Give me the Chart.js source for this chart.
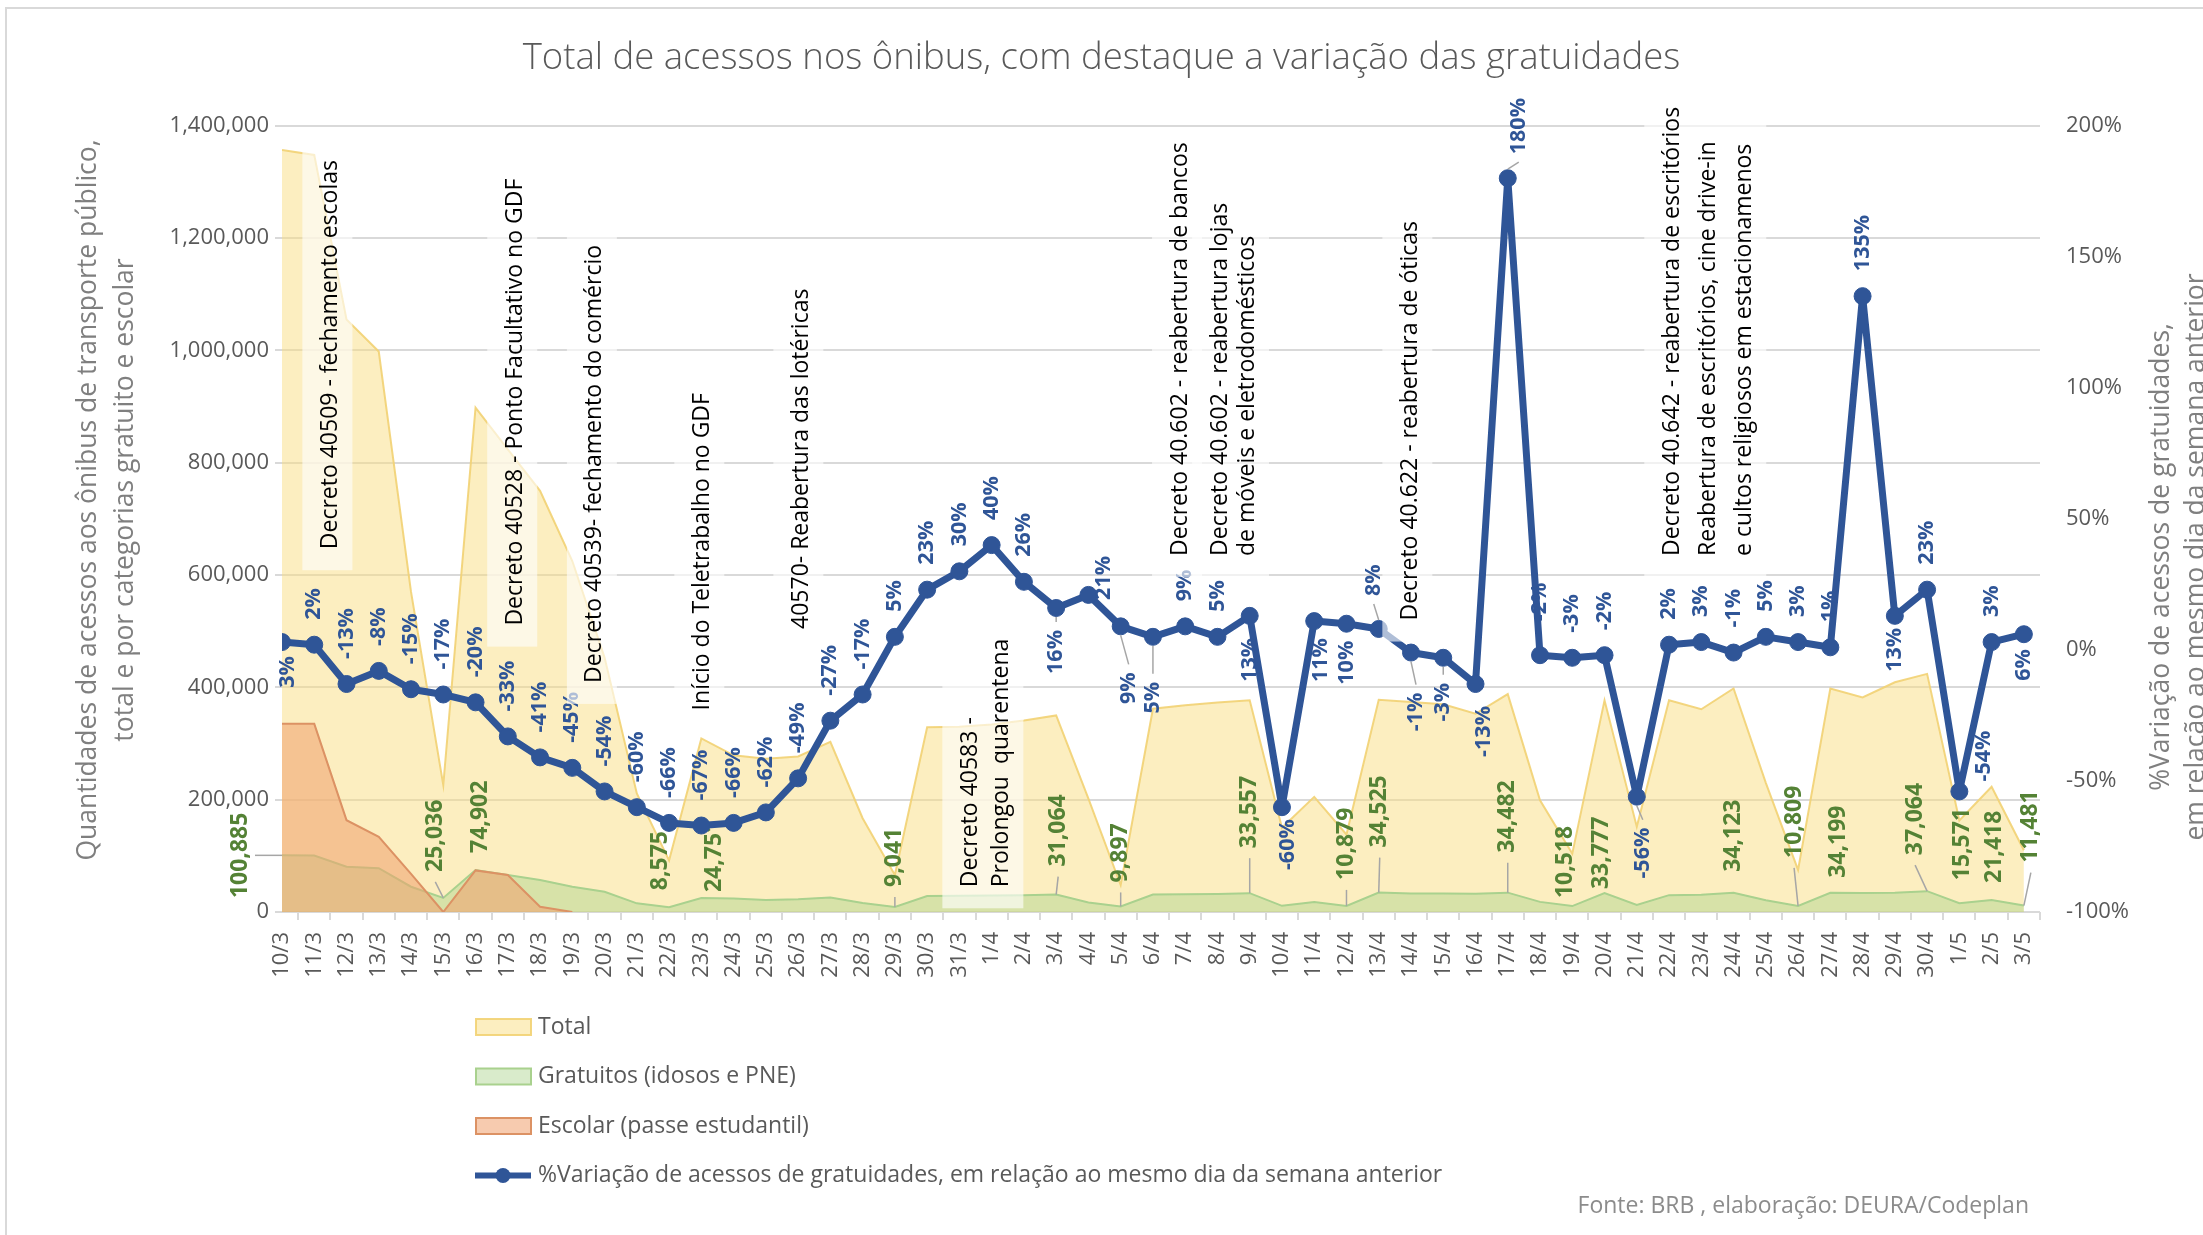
<!DOCTYPE html>
<html lang="pt-BR">
<head>
<meta charset="utf-8">
<title>Total de acessos nos ônibus</title>
<script src="https://cdn.jsdelivr.net/npm/chart.js@4.4.1/dist/chart.umd.min.js"></script>
<style>
  html, body { margin: 0; padding: 0; background: #fff; }
  #wrap { position: relative; width: 2203px; height: 1235px; }
</style>
</head>
<body>
<div id="wrap"><canvas id="chart"></canvas></div>
<script>
// Datas (dia/mês) – 10/3 a 3/5
const dateLabels = [
  '10/3', '11/3', '12/3', '13/3', '14/3', '15/3', '16/3', '17/3', '18/3', '19/3', '20/3',
  '21/3', '22/3', '23/3', '24/3', '25/3', '26/3', '27/3', '28/3', '29/3', '30/3', '31/3',
  '1/4', '2/4', '3/4', '4/4', '5/4', '6/4', '7/4', '8/4', '9/4', '10/4', '11/4', '12/4',
  '13/4', '14/4', '15/4', '16/4', '17/4', '18/4', '19/4', '20/4', '21/4', '22/4', '23/4',
  '24/4', '25/4', '26/4', '27/4', '28/4', '29/4', '30/4', '1/5', '2/5', '3/5',
];

// Total de acessos
const totalAcessos = [
  1357000, 1348000, 1055000, 998000, 570000, 226000, 898000, 824000, 750000, 625000, 453000,
  211000, 92000, 309000, 279000, 273000, 277000, 303000, 167000, 66000, 329000, 330000,
  334000, 341000, 350000, 202000, 48000, 362000, 368000, 373000, 377000, 150000, 205000, 138000,
  378000, 374000, 370000, 353000, 388000, 199000, 104000, 377000, 152000, 377000, 361000,
  398000, 230000, 75000, 398000, 382000, 409000, 424000, 163000, 223000, 110000,
];

// Gratuitos (idosos e PNE)
const gratuitos = [
  100885, 100500, 80500, 78000, 45000, 25036, 74902, 65700, 56800, 45000, 36000,
  15400, 8575, 24751, 24000, 21300, 22500, 26000, 16000, 9041, 28400, 29000,
  29500, 30000, 31064, 17000, 9897, 31000, 31500, 32000, 33557, 11000, 17800, 10879,
  34525, 33000, 33000, 32500, 34482, 18000, 10518, 33777, 12500, 30000, 30500,
  34123, 21000, 10809, 34199, 34000, 34500, 37064, 15571, 21418, 11481,
];

// Escolar (passe estudantil) – some após 19/3
const escolar = [
  335000, 335000, 163500, 134000, 68000, 0, 74000, 66000, 9400, 0, null,
  null, null, null, null, null, null, null, null, null, null, null,
  null, null, null, null, null, null, null, null, null, null, null, null,
  null, null, null, null, null, null, null, null, null, null, null,
  null, null, null, null, null, null, null, null, null, null,
];

// % variação dos gratuitos vs mesmo dia da semana anterior
const variacaoPct = [
  3, 2, -13, -8, -15, -17, -20, -33, -41, -45, -54,
  -60, -66, -67, -66, -62, -49, -27, -17, 5, 23, 30,
  40, 26, 16, 21, 9, 5, 9, 5, 13, -60, 11, 10,
  8, -1, -3, -13, 180, -2, -3, -2, -56, 2, 3,
  -1, 5, 3, 1, 135, 13, 23, -54, 3, 6,
];

// rótulos verdes: só alguns pontos têm rótulo (dx/dy em px a partir do ponto)
const gratLabelPos = {
  0: { side: 'left', dx: -42 },
  5: { dx: -8, dy: 26, leader: true },
  6: { dx: 5, dy: 17 },
  12: { dx: -9, dy: 17 },
  13: { dx: 13, dy: 6 },
  19: { dx: 0, dy: 20, leader: true },
  24: { dx: 2, dy: 28, leader: true },
  26: { dx: 0, dy: 24, leader: true },
  30: { dx: 0, dy: 45, leader: true },
  33: { dx: 0, dy: 26, leader: true },
  34: { dx: 1, dy: 45, leader: true },
  38: { dx: 0, dy: 40, leader: true },
  40: { dx: -7, dy: 8 },
  41: { dx: -3, dy: 4 },
  45: { dx: 0, dy: 21 },
  47: { dx: -4, dy: 48, leader: true },
  48: { dx: 8, dy: 15 },
  51: { dx: -12, dy: 36, leader: true },
  52: { dx: 3, dy: 23 },
  53: { dx: 3, dy: 17 },
  54: { dx: 7, dy: 43, leader: true },
};

// rótulos azuis: a = acima, b = abaixo
const pctPlace = 'b' + 'aaaaaaaaaaaaaaaaaaaaaaa' + 'b' + 'a' + 'bb' + 'aa' + 'bbbb' + 'a' + 'bbb' +
  'aaaa' + 'b' + 'aaaaaaa' + 'b' + 'aaa' + 'b';
const pctTweaks = {
  0: { dx: 6, gap: 14 }, 24: { gap: 22, leader: true }, 25: { dx: 15, gap: -5 },
  26: { dx: 8, gap: 46, leader: true }, 27: { gap: 45, leader: true }, 30: { gap: 22 },
  31: { dx: 6, gap: 12 }, 32: { dx: 7, gap: 17 }, 33: { gap: 17 },
  34: { dx: -5, gap: 33, leader: true }, 35: { dx: 5, gap: 40, leader: true },
  36: { gap: 25, leader: true }, 37: { dx: 8, gap: 22 }, 38: { dx: 11, gap: 24, leader: true },
  39: { gap: 34 }, 42: { dx: 6, gap: 31, leader: true }, 50: { gap: 12 },
  52: { dx: 25, gap: 10 }, 54: { gap: 15 },
};

// caixas de texto com os decretos (x = índice da data, base = valor no eixo esquerdo)
const annotations = [
  { at: 1.5, base: 646000, gap: 0, lines: ['Decreto 40509 - fechamento escolas'] },
  { at: 7.23, base: 510000, gap: 0, lines: ['Decreto 40528 - Ponto Facultativo no GDF'] },
  { at: 9.7, base: 408000, gap: 0, lines: ['Decreto 40539- fechamento do comércio'] },
  { at: 13.03, base: 359000, gap: 0, lines: ['Início do Teletrabalho no GDF'] },
  { at: 16.1, base: 504000, gap: 0, lines: ['40570- Reabertura das lotéricas'] },
  { at: 21.34, base: 44000, gap: 31, lines: ['Decreto 40583 -', 'Prolongou  quarentena'] },
  { at: 27.84, base: 634000, gap: 0, lines: ['Decreto 40.602 - reabertura de bancos'] },
  { at: 29.08, base: 634000, gap: 27, lines: ['Decreto 40.602 - reabertura lojas', 'de móveis e eletrodomésticos'] },
  { at: 34.98, base: 519000, gap: 0, lines: ['Decreto 40.622 - reabertura de óticas'] },
  { at: 43.1, base: 634000, gap: 36, lines: ['Decreto 40.642 - reabertura de escritórios',
    'Reabertura de escritórios, cine drive-in', 'e cultos religiosos em estacionamenos'] },
];

const GREEN = '#548235';
const BLUE = '#2F5597';
const GRAY = '#595959';
const LEADER = '#a6a6a6';
const FONT = '"Open Sans", sans-serif';

Chart.defaults.font.family = FONT;

const pts = arr => arr.map((v, i) => ({ x: i, y: v }));

// texto vertical (lido de baixo para cima)
function vText(ctx, text, x, y, align) {
  ctx.save();
  ctx.translate(x, y);
  ctx.rotate(-Math.PI / 2);
  ctx.textAlign = align;
  ctx.textBaseline = 'middle';
  ctx.fillText(text, 0, 0);
  ctx.restore();
}

function leader(ctx, x1, y1, x2, y2) {
  ctx.save();
  ctx.strokeStyle = LEADER;
  ctx.lineWidth = 1.5;
  ctx.beginPath();
  ctx.moveTo(x1, y1);
  ctx.lineTo(x2, y2);
  ctx.stroke();
  ctx.restore();
}

const labelsPlugin = {
  id: 'rotulos',
  // rótulos verdes ficam por baixo da linha azul
  beforeDatasetDraw(chart, args) {
    if (args.index !== 3) return;
    const ctx = chart.ctx;
    const meta = chart.getDatasetMeta(1).data;
    ctx.save();
    ctx.font = 'bold 23px ' + FONT;
    ctx.fillStyle = GREEN;
    Object.keys(gratLabelPos).forEach(k => {
      const i = +k, p = gratLabelPos[k], pt = meta[i];
      const txt = gratuitos[i].toLocaleString('en-US');
      if (p.side === 'left') {
        const x = pt.x + p.dx;
        leader(ctx, x + 15, pt.y, pt.x, pt.y);
        ctx.fillStyle = GREEN;
        vText(ctx, txt, x, pt.y, 'center');
        return;
      }
      const x = pt.x + p.dx, yb = pt.y - p.dy;
      if (p.leader) leader(ctx, pt.x, pt.y, x, yb + 10);
      ctx.fillStyle = GREEN;
      vText(ctx, txt, x, yb, 'left');
    });
    ctx.restore();
  },
  afterDatasetsDraw(chart) {
    const ctx = chart.ctx;
    const meta = chart.getDatasetMeta(3).data;
    ctx.save();
    ctx.font = 'bold 21.5px ' + FONT;
    variacaoPct.forEach((v, i) => {
      const pt = meta[i], t = pctTweaks[i] || {};
      const below = pctPlace[i] === 'b';
      const gap = t.gap !== undefined ? t.gap : (below ? 16 : 25);
      const x = pt.x + (t.dx || 0);
      const y = below ? pt.y + gap : pt.y - gap;
      if (t.leader) leader(ctx, pt.x, below ? pt.y + 9 : pt.y - 9, x, below ? y - 8 : y + 8);
      ctx.fillStyle = BLUE;
      vText(ctx, v + '%', x, y, below ? 'right' : 'left');
    });

    // decretos, com caixa branca semitransparente
    const xs = chart.scales.x, ys = chart.scales.y;
    ctx.font = '23px ' + FONT;
    annotations.forEach(a => {
      const x0 = xs.getPixelForValue(a.at);
      const xl = x0 + (a.lines.length - 1) * a.gap;
      const yb = ys.getPixelForValue(a.base);
      const len = Math.max(...a.lines.map(s => ctx.measureText(s).width));
      ctx.fillStyle = 'rgba(255,255,255,0.62)';
      ctx.fillRect(x0 - 28, yb - len - 12, xl - x0 + 50, len + 33);
      ctx.fillStyle = '#000';
      a.lines.forEach((s, k) => vText(ctx, s, x0 + k * a.gap, yb, 'left'));
    });
    ctx.restore();
  },
  afterDraw(chart) {
    const ctx = chart.ctx;
    ctx.save();
    // moldura
    ctx.strokeStyle = '#d9d9d9';
    ctx.lineWidth = 2;
    ctx.beginPath();
    ctx.moveTo(6, 1235);
    ctx.lineTo(6, 8);
    ctx.lineTo(2203, 8);
    ctx.stroke();

    // títulos dos eixos
    ctx.font = '26.5px ' + FONT;
    ctx.fillStyle = '#7f7f7f';
    vText(ctx, 'Quantidades de acessos aos ônibus de transporte público,', 88, 500, 'center');
    vText(ctx, 'total e por categorias gratuito e escolar', 125, 500, 'center');
    vText(ctx, '%Variação de acessos de gratuidades,', 2161, 557, 'center');
    vText(ctx, 'em relação ao mesmo dia da semana anterior', 2196, 557, 'center');

    // legenda
    ctx.font = '23px ' + FONT;
    ctx.textBaseline = 'middle';
    ctx.textAlign = 'left';
    chart.data.datasets.forEach((ds, k) => {
      const y = 1027 + k * 49.5;
      if (ds.yAxisID === 'y1') {
        ctx.strokeStyle = ds.borderColor;
        ctx.lineWidth = 6;
        ctx.beginPath();
        ctx.moveTo(475, y);
        ctx.lineTo(531, y);
        ctx.stroke();
        ctx.fillStyle = ds.borderColor;
        ctx.beginPath();
        ctx.arc(503, y, 7.5, 0, Math.PI * 2);
        ctx.fill();
      } else {
        ctx.fillStyle = '#fff';
        ctx.fillRect(476, y - 8, 55, 16);
        ctx.fillStyle = ds.backgroundColor;
        ctx.fillRect(476, y - 8, 55, 16);
        ctx.strokeStyle = ds.borderColor;
        ctx.lineWidth = 2;
        ctx.strokeRect(476, y - 8, 55, 16);
      }
      ctx.fillStyle = GRAY;
      ctx.fillText(ds.label, 538, y);
    });

    // fonte
    ctx.font = '23px ' + FONT;
    ctx.fillStyle = '#8c8c8c';
    ctx.textAlign = 'right';
    ctx.textBaseline = 'alphabetic';
    ctx.fillText('Fonte: BRB , elaboração: DEURA/Codeplan', 2029, 1213);
    ctx.restore();
  },
};

new Chart(document.getElementById('chart'), {
  type: 'line',
  data: {
    datasets: [
      {
        label: 'Total', data: pts(totalAcessos), yAxisID: 'y', fill: 'origin', order: 3,
        backgroundColor: 'rgba(250,222,130,0.5)', borderColor: 'rgba(242,210,115,0.9)',
        borderWidth: 2, pointRadius: 0, tension: 0,
      },
      {
        label: 'Gratuitos (idosos e PNE)', data: pts(gratuitos), yAxisID: 'y', fill: 'origin', order: 2,
        backgroundColor: 'rgba(170,210,140,0.45)', borderColor: '#a9d18e',
        borderWidth: 2, pointRadius: 0, tension: 0,
      },
      {
        label: 'Escolar (passe estudantil)', data: pts(escolar), yAxisID: 'y', fill: 'origin', order: 1,
        backgroundColor: 'rgba(240,160,110,0.55)', borderColor: '#dc9264',
        borderWidth: 2, pointRadius: 0, tension: 0,
      },
      {
        label: '%Variação de acessos de gratuidades, em relação ao mesmo dia da semana anterior',
        data: pts(variacaoPct), yAxisID: 'y1', fill: false, order: 0,
        borderColor: BLUE, backgroundColor: BLUE, borderWidth: 7, borderJoinStyle: 'round',
        pointRadius: 8.5, pointBackgroundColor: BLUE, pointBorderColor: BLUE, pointBorderWidth: 1, tension: 0,
      },
    ],
  },
  options: {
    responsive: true,
    maintainAspectRatio: false,
    animation: false,
    devicePixelRatio: 1,
    layout: { padding: 0 },
    plugins: {
      legend: { display: false },
      tooltip: { enabled: false },
      title: {
        display: true,
        text: 'Total de acessos nos ônibus, com destaque a variação das gratuidades',
        color: GRAY,
        font: { size: 36.5, weight: '300' },
        padding: { top: 37, bottom: 45 },
      },
    },
    scales: {
      x: {
        type: 'linear', min: 0, max: 54.5,
        afterBuildTicks: s => { s.ticks = dateLabels.map((_, i) => ({ value: i })); },
        afterFit: s => { s.height = 323; },
        grid: { display: true, drawOnChartArea: false, drawTicks: true, tickLength: 8, offset: true, color: '#d9d9d9', lineWidth: 2 },
        border: { display: false },
        ticks: {
          autoSkip: false, minRotation: 90, maxRotation: 90, padding: 12,
          color: GRAY, font: { size: 22 },
          callback: v => dateLabels[v],
        },
      },
      y: {
        position: 'left', min: 0, max: 1400000,
        afterFit: s => { s.width = 282; },
        grid: { color: '#d9d9d9', lineWidth: 2, tickLength: 7 },
        border: { display: false },
        ticks: { stepSize: 200000, padding: 6, color: GRAY, font: { size: 22 }, callback: v => v.toLocaleString('en-US') },
      },
      y1: {
        position: 'right', min: -100, max: 200,
        afterFit: s => { s.width = 163; },
        grid: { display: false, drawTicks: false },
        border: { display: false },
        ticks: { stepSize: 50, padding: 26, color: GRAY, font: { size: 22 }, callback: v => v + '%' },
      },
    },
  },
  plugins: [labelsPlugin],
});
</script>
</body>
</html>
